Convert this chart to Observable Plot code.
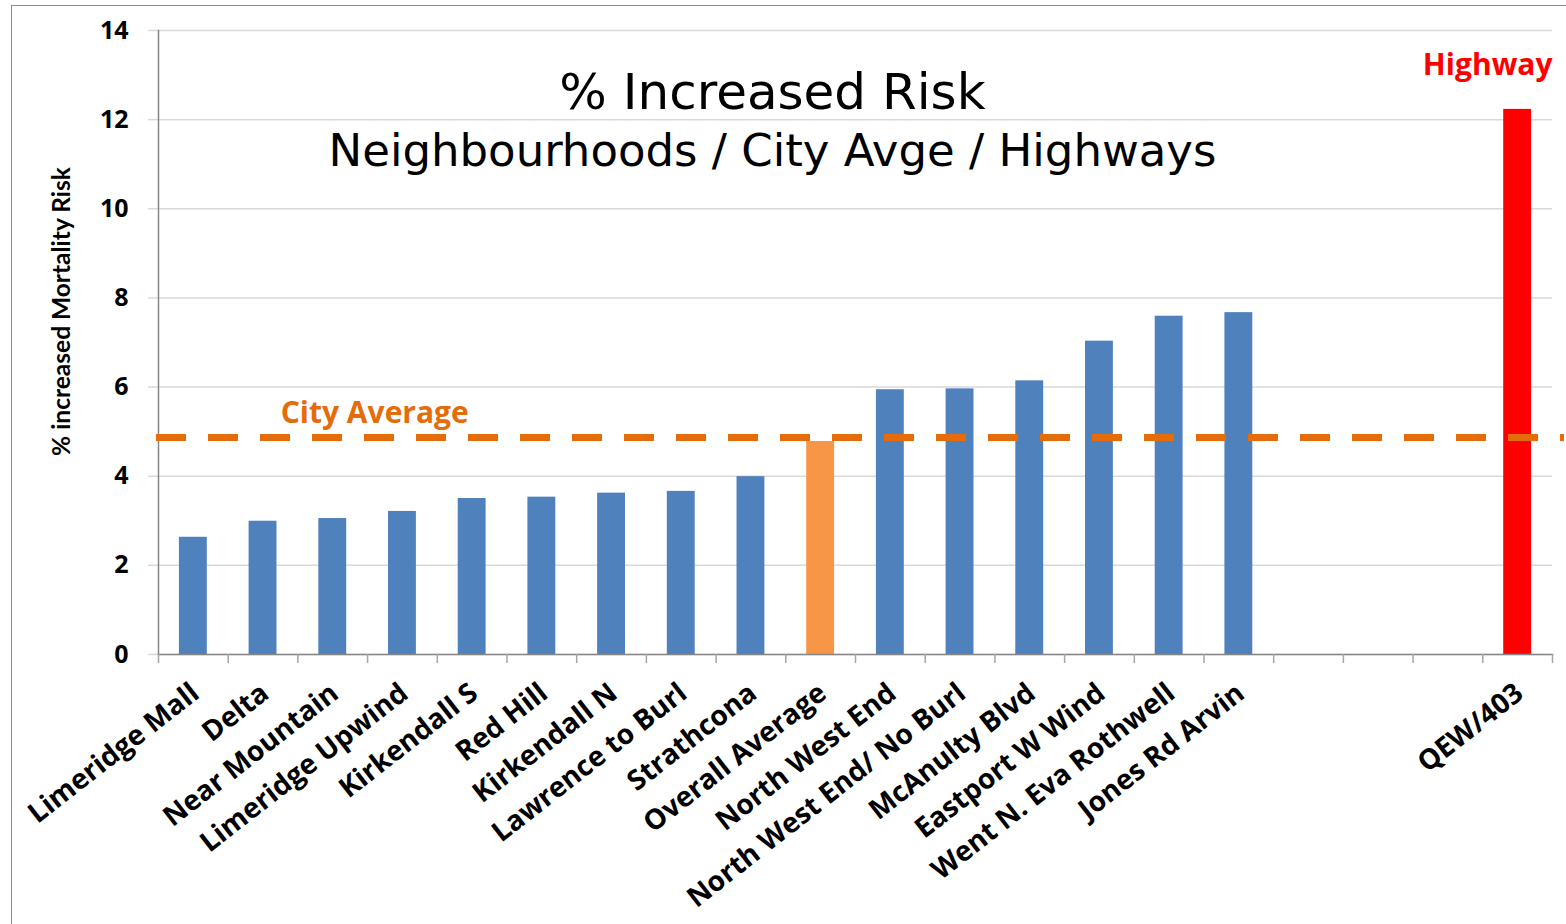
<!DOCTYPE html>
<html><head><meta charset="utf-8">
<script src="https://cdn.jsdelivr.net/npm/d3@7"></script>
<script src="https://cdn.jsdelivr.net/npm/@observablehq/plot@0.6"></script>
<style>
body{margin:0;background:#fff;}
#wrap{position:relative;width:1566px;height:924px;overflow:hidden;background:#fff;}
#border{position:absolute;left:11px;top:5px;width:1600px;height:1000px;border:1px solid #8c8c8c;}
#chart{position:absolute;left:0;top:0;}
</style></head><body>
<div id="wrap"><div id="border"></div><div id="chart"></div></div>
<script>
// ---- data ----
const neighbourhoods = ["Limeridge Mall","Delta","Near Mountain","Limeridge Upwind","Kirkendall S","Red Hill","Kirkendall N","Lawrence to Burl","Strathcona","Overall Average","North West End","North West End/ No Burl","McAnulty Blvd","Eastport W Wind","Went N. Eva Rothwell","Jones Rd Arvin"];
const neighbourhoodRisk = [2.63, 2.99, 3.05, 3.21, 3.50, 3.53, 3.62, 3.66, 3.99, 4.78, 5.94, 5.96, 6.14, 7.03, 7.59, 7.67];
const gapSlots = [" ", "  ", "   "];
const highways = ["QEW/403"];
const highwayRisk = [12.23];
const cityAverage = 4.87;
const yTicks = [0, 2, 4, 6, 8, 10, 12, 14];
const titleText = "% Increased Risk";
const subtitleText = "Neighbourhoods / City Avge / Highways";
const yLabel = "% increased Mortality Risk";
const avgLabel = "City Average";
const hwyLabel = "Highway";

// ---- styles ----
const W = 1566, H = 924, ML = 158, MR = 14, MT = 30, MB = 270;
const colors = {neighbourhood: "#4F81BD", average: "#F79646", highway: "#FF0000"};

const rows = [
  ...neighbourhoods.map((name, i) => ({name, value: neighbourhoodRisk[i], kind: name === "Overall Average" ? "average" : "neighbourhood"})),
  ...highways.map((name, i) => ({name, value: highwayRisk[i], kind: "highway"}))
];
const slots = [...neighbourhoods, ...gapSlots, ...highways];
const step = (W - ML - MR) / slots.length;
const labelled = [...neighbourhoods, ...highways];
const titleDx = 772 - (ML + (W - MR)) / 2;

const chart = Plot.plot({
  width: W, height: H,
  marginLeft: ML, marginRight: MR, marginTop: MT, marginBottom: MB,
  style: {fontFamily: "'Open Sans', sans-serif", background: "transparent", color: "#000", overflow: "visible"},
  x: {domain: slots, paddingInner: 0.6, paddingOuter: 0.3, round: false, axis: null},
  y: {domain: [0, 14], axis: null},
  color: {type: "identity"},
  marks: [
    Plot.gridY(yTicks, {stroke: "#d9d9d9", strokeOpacity: 1, strokeWidth: 1.5}),
    Plot.axisY(yTicks, {tickSize: 10, tickPadding: 20, stroke: "#d9d9d9", strokeOpacity: 1, strokeWidth: 1.5, fontSize: 25, fontWeight: 700, label: null}),
    Plot.frame({anchor: "left", stroke: "#868686", strokeWidth: 1.5}),
    Plot.barY(rows, {x: "name", y: "value", fill: d => colors[d.kind]}),
    Plot.frame({anchor: "bottom", stroke: "#868686", strokeWidth: 1.5}),
    Plot.axisX(slots, {tickSize: 9, dx: -step / 2, stroke: "#a6a6a6", strokeWidth: 1.5, fill: "none", label: null}),
    Plot.axisX([slots[slots.length - 1]], {tickSize: 9, dx: step / 2, stroke: "#a6a6a6", strokeWidth: 1.5, fill: "none", label: null}),
    Plot.axisX(labelled, {tickSize: 0, tickPadding: 35, dx: 2, tickRotate: -38, fontSize: 28, fontWeight: 700, label: null}),
    Plot.ruleY([cityAverage], {stroke: "#E46C0A", strokeWidth: 7, strokeDasharray: "30,22", insetRight: -14, dx: -2}),
    Plot.text([avgLabel], {x: () => neighbourhoods[2], y: () => cityAverage, dx: 42, dy: -14, lineAnchor: "bottom", fill: "#E46C0A", fontSize: 30, fontWeight: 700}),
    Plot.text([hwyLabel], {frameAnchor: "top-right", lineAnchor: "bottom", dy: 44, fill: "#FF0000", fontSize: 30, fontWeight: 700}),
    Plot.text([titleText], {frameAnchor: "top", lineAnchor: "bottom", dx: titleDx, dy: 78, fontFamily: "'DejaVu Sans', sans-serif", fontSize: 50}),
    Plot.text([subtitleText], {frameAnchor: "top", lineAnchor: "bottom", dx: titleDx, dy: 135, fontFamily: "'DejaVu Sans', sans-serif", fontSize: 45}),
    Plot.text([yLabel], {frameAnchor: "left", rotate: -90, textAnchor: "middle", dx: -96, dy: -31, fontFamily: "Lato, sans-serif", fontSize: 24.5, fontWeight: 700})
  ]
});
document.getElementById("chart").appendChild(chart);
</script>
</body></html>
